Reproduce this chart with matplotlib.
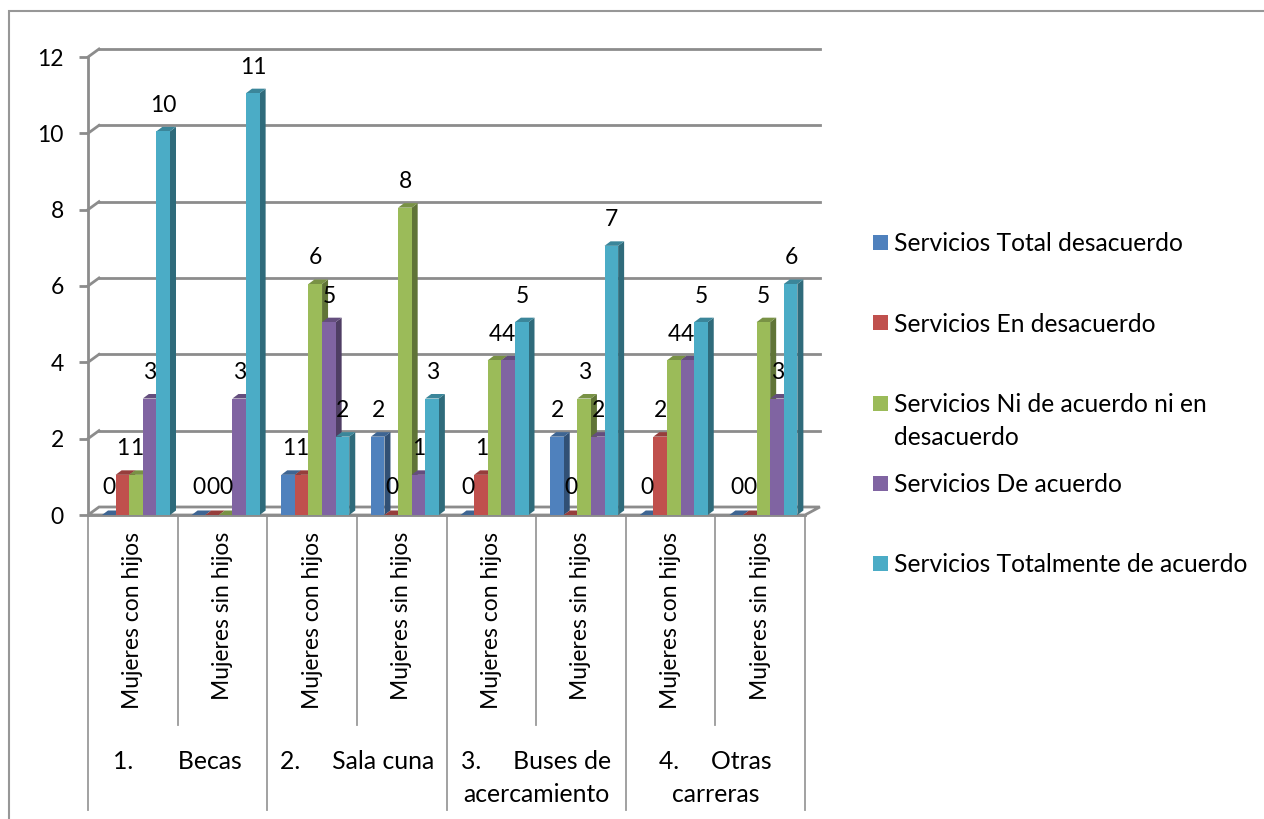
import matplotlib
matplotlib.use("Agg")
import matplotlib.pyplot as plt
from matplotlib.patches import Polygon, Rectangle
from matplotlib.colors import to_rgb

plt.rcParams['font.family'] = ['Lato', 'DejaVu Sans']

# ---- data ----
bar_categories = ["Mujeres con hijos", "Mujeres sin hijos"] * 4
group_line1 = ["1.       Becas", "2.     Sala cuna", "3.     Buses de", "4.     Otras"]
group_line2 = ["", "", "acercamiento", "carreras"]
series_names = ["Servicios Total desacuerdo", "Servicios En desacuerdo",
                "Servicios Ni de acuerdo ni en\ndesacuerdo",
                "Servicios De acuerdo", "Servicios Totalmente de acuerdo"]
total_desacuerdo = [0, 0, 1, 2, 0, 2, 0, 0]
en_desacuerdo = [1, 0, 1, 0, 1, 0, 2, 0]
ni_ni = [1, 0, 6, 8, 4, 3, 4, 5]
de_acuerdo = [3, 3, 5, 1, 4, 2, 4, 3]
totalmente = [10, 11, 2, 3, 5, 7, 5, 6]
series_values = [total_desacuerdo, en_desacuerdo, ni_ni, de_acuerdo, totalmente]
colors = ["#4F81BD", "#C0504D", "#9BBB59", "#8064A2", "#4BACC6"]
y_ticks = [0, 2, 4, 6, 8, 10, 12]

# ---- layout (pixels) ----
W, H = 1264, 819
X0, X1, Y0, Y12 = 88.0, 805.0, 515.0, 57.0
GREY = "#8C8C8C"
FS = 16.5
px_x = (X1 - X0) / 8
px_y = (Y0 - Y12) / 12
BAR_W = 13.6 / px_x
BAR_START = 14.0 / px_x
LIFT = 2.0 / px_y                      # bar tops sit slightly above the tick level
DX, DY = 6.0 / px_x, 4.5 / px_y        # bar depth
WX, WY = 11.0 / px_x, 8.0 / px_y       # wall depth
group_x = [113, 280, 461, 659]


def shade(c, f):
    return tuple(v * f for v in to_rgb(c))


fig = plt.figure(figsize=(W / 100, H / 100), dpi=100, facecolor="white")
ax = fig.add_axes([X0 / W, 1 - Y0 / H, (X1 - X0) / W, (Y0 - Y12) / H])
ax.set_xlim(0, 8)
ax.set_ylim(0, 12)
ax.set_facecolor("none")
for s in ax.spines.values():
    s.set_visible(False)

# chart frame
fig.add_artist(Rectangle((9 / W, -0.02), (W + 10) / W, 1.02 - 11 / H,
                         transform=fig.transFigure, fill=False,
                         edgecolor="#979797", lw=1.5))

LW = 2.0
# back wall grid and floor
for v in y_ticks[1:]:
    ax.plot([WX, 8 + WX * 1.35], [v + WY, v + WY], color=GREY, lw=LW, clip_on=False, zorder=1)
    ax.plot([0, WX], [v, v + WY], color=GREY, lw=LW, clip_on=False, zorder=1)
ax.add_patch(Polygon([(0, 0), (WX, WY), (8 + WX * 1.35, WY), (8, 0)], closed=True,
                     facecolor="white", edgecolor=GREY, lw=LW, clip_on=False, zorder=1))
ax.plot([0, 0], [0, 12], color=GREY, lw=LW, clip_on=False, zorder=1.5)

# bars
for j, (vals, col) in enumerate(zip(series_values, colors)):
    xs = [i + BAR_START + j * BAR_W for i in range(8)]
    tops = [v + LIFT if v > 0 else 0 for v in vals]
    ax.bar(xs, tops, width=BAR_W, align="edge", color=col, linewidth=0, zorder=3 + j,
           clip_on=False)
    for x, v, t in zip(xs, vals, tops):
        ax.add_patch(Polygon([(x + BAR_W, 0), (x + BAR_W + DX, DY), (x + BAR_W + DX, t + DY), (x + BAR_W, t)],
                             closed=True, facecolor=shade(col, 0.62), edgecolor="none",
                             clip_on=False, zorder=3 + j - 0.2))
        ax.add_patch(Polygon([(x, t), (x + DX, t + DY), (x + BAR_W + DX, t + DY), (x + BAR_W, t)],
                             closed=True, facecolor=shade(col, 0.78), edgecolor="none",
                             clip_on=False, zorder=3 + j - 0.1))
        ax.text(x + BAR_W / 2 + 0.5 / px_x, v + 28.0 / px_y, str(v), ha="center", va="center",
                fontsize=FS, color="black", zorder=20, clip_on=False)

# y axis
ax.set_yticks(y_ticks)
ax.tick_params(axis="y", length=6.5, width=LW, color=GREY, labelsize=FS, pad=11)
# category axis
ax.set_xticks([i + 0.5 for i in range(8)])
ax.set_xticklabels(bar_categories, rotation=90, fontsize=FS)
ax.tick_params(axis="x", length=0, pad=12)

# separators
ax.plot([0, 8], [0, 0], color=GREY, lw=LW, clip_on=False, zorder=2)
for i in range(9):
    low = 810 if i % 2 == 0 else 725
    ax.plot([i, i], [0, (Y0 - low) / px_y], color="#9A9A9A", lw=1.3, clip_on=False, zorder=1)

# group labels
for g, (l1, l2) in enumerate(zip(group_line1, group_line2)):
    ax.text((group_x[g] - X0) / px_x, (Y0 - 761.5) / px_y, l1, ha="left", va="center", fontsize=17.8, clip_on=False)
    if l2:
        ax.text(2 * g + 1, (Y0 - 794.5) / px_y, l2, ha="center", va="center", fontsize=17.8, clip_on=False)

# legend
legend_text_y = [243.5, 324.5, 421, 484.5, 564.5]
legend_box_y = [242.5, 322.5, 403.5, 483.5, 563.5]
for name, col, ty, by in zip(series_names, colors, legend_text_y, legend_box_y):
    fig.add_artist(Rectangle((873 / W, 1 - (by + 7.5) / H), 15 / W, 15 / H, transform=fig.transFigure,
                             facecolor=col, edgecolor="none"))
    fig.text(894 / W, 1 - ty / H, name, ha="left", va="center", fontsize=17.7, linespacing=1.5)

fig.savefig("out.png", dpi=100, facecolor="white")
